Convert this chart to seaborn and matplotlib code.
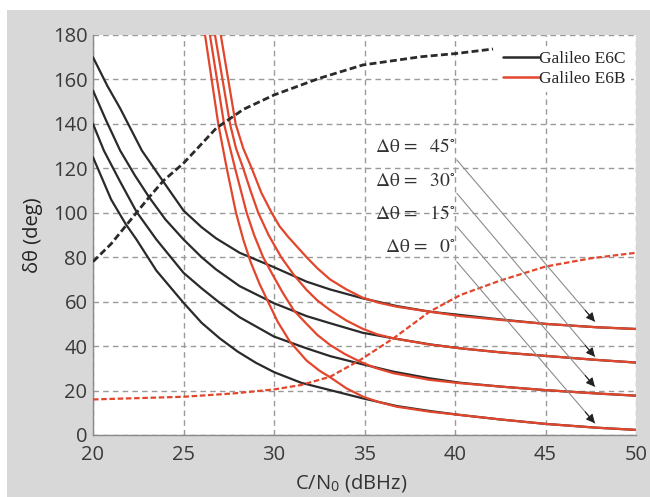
import numpy as np
import pandas as pd
import matplotlib

matplotlib.use("Agg")
import matplotlib.pyplot as plt
from matplotlib.lines import Line2D
from matplotlib.patches import Rectangle
import seaborn as sns

# ---- values ----
offsets = [45, 30, 15, 0]

# Galileo E6C (black, solid)
e6c_cn0 = {
    45: [20, 20.8, 21.5, 22.7, 23.8, 25, 26, 26.8, 28.1, 30, 31.8, 33.1, 34.9, 36.8, 38.6, 40.3, 42.5, 45, 47.8, 50],
    30: [20, 20.7, 21.5, 22.3, 23.1, 24, 25, 26, 26.8, 28.1, 30, 31.8, 33.1, 34.9, 36.6, 38.6, 40.3, 42.5, 45, 47.8, 50],
    15: [20, 20.6, 21.5, 22.4, 23.5, 25, 26, 27, 28.1, 30, 31.8, 33.1, 34.8, 36.6, 38.6, 40.3, 42.5, 45, 47.8, 50],
    0: [20, 21, 21.8, 22.4, 23.5, 25, 26, 27, 28, 29, 30, 31.5, 33.1, 34.9, 36.8, 38.6, 40.3, 42.5, 45, 47.8, 50],
}
e6c_dtheta = {
    45: [170, 157, 147, 128, 115, 101, 93.5, 88.5, 82, 75.5, 69, 65.5, 61.5, 58, 55.5, 54, 52, 50, 48.5, 47.7],
    30: [155, 142, 128, 117, 107, 97, 88, 80, 74.5, 67, 59.3, 53.5, 50.3, 46, 43.5, 40.8, 39, 37.2, 35.6, 33.8, 32.6],
    15: [140, 128, 114, 100.5, 88, 73, 66, 59.5, 53, 44.3, 39, 35.5, 32, 28.5, 25.5, 23.5, 21.8, 20.2, 18.7, 17.7],
    0: [125, 106, 95, 88, 74, 59.5, 50.5, 43.5, 37.5, 32.5, 28.3, 23.5, 20.2, 16.5, 13, 10.8, 9, 7, 5, 3.3, 2.3],
}

# Galileo E6B (red, solid)
e6b_cn0 = {
    45: [27.06, 27.88, 28.3, 28.77, 29.3, 29.87, 30.3, 30.8, 31.8, 32.4, 33.1, 34, 34.9, 35.8, 36.8, 38.6, 40.3, 42.5, 45, 47.8, 50],
    30: [26.74, 27.57, 27.9, 28.3, 28.7, 29.13, 29.7, 30.4, 31.1, 31.8, 32.4, 33.1, 34, 34.9, 35.7, 36.6, 38.6, 40.3, 42.5, 45, 47.8, 50],
    15: [26.46, 27.24, 27.85, 28.49, 28.9, 29.4, 30, 30.5, 31.1, 31.8, 32.4, 33.1, 33.9, 34.75, 35.6, 36.6, 38.6, 40.3, 42.5, 45, 47.8, 50],
    0: [26.19, 26.92, 27.39, 27.9, 28.3, 28.7, 29.2, 29.67, 30.2, 30.88, 31.8, 32.5, 33.1, 34, 34.93, 35.8, 36.8, 38.6, 40.3, 42.5, 45, 47.8, 50],
}
e6b_dtheta = {
    45: [180, 140, 129, 120, 109, 100, 94, 89, 80, 75, 70, 65.5, 61.8, 59.5, 57.7, 55.5, 53.5, 51.8, 50, 48.5, 47.7],
    30: [180, 140, 129, 120, 110, 100, 90, 80, 72, 65.3, 60.5, 56.2, 51.5, 47.8, 45.3, 43.5, 40.7, 39, 37.2, 35.6, 33.8, 32.6],
    15: [180, 140, 120, 100, 90, 80, 71, 63.8, 56, 50, 45, 40.5, 36.5, 33, 30.2, 27.8, 24.8, 23.3, 21.8, 20.2, 18.7, 17.7],
    0: [180, 140, 120, 100, 88, 78, 68, 60, 51, 42, 33.5, 29, 26, 21, 17.2, 14.8, 12.7, 10.5, 9, 7, 5, 3.3, 2.3],
}

# dashed curves
e6c_dash_cn0 = [20, 21, 21.8, 22.4, 23.1, 23.9, 25, 26, 26.8, 28.3, 30, 32.5, 34.9, 38.1, 40.1, 42.1]
e6c_dash = [78, 86, 94, 100, 107, 114.5, 122.3, 131, 138, 146.5, 153, 160.5, 166.5, 170.2, 171.7, 173.7]
e6b_dash_cn0 = [20, 25, 27.75, 30, 31.5, 33.1, 34.75, 36.6, 38.6, 40.3, 42.5, 45, 47.5, 50]
e6b_dash = [16, 17.2, 18.7, 20.5, 22.5, 26.2, 33.7, 43.5, 55.5, 63, 69.5, 75.8, 79.5, 82]

# annotation: label y, arrow start y, arrow end y
label_y = [129.7, 114.4, 99.6, 84.6]
arrow_start_y = [123.8, 108.8, 93.8, 78.0]
arrow_end_y = [51.0, 35.2, 21.7, 5.3]
arrow_x0, arrow_x1 = 40.1, 47.73

BLACK = "#2a2a2a"
RED = "#e2462c"

rows = []
for sig, xs, ys in (("Galileo E6C", e6c_cn0, e6c_dtheta), ("Galileo E6B", e6b_cn0, e6b_dtheta)):
    for off in offsets:
        for x, y in zip(xs[off], ys[off]):
            rows.append({"cn0": x, "dtheta": y, "signal": sig, "offset": off})
df = pd.DataFrame(rows)

sns.set_theme(style="white")
plt.rcParams["font.family"] = ["Open Sans", "DejaVu Sans"]
plt.rcParams["mathtext.fontset"] = "stix"

fig = plt.figure(figsize=(6.5, 4.97), dpi=100, facecolor="white")
fig.patches.append(
    Rectangle((7 / 650, 0), 1 - 7 / 650, 1 - 10 / 497, transform=fig.transFigure,
              facecolor="#d8d8d8", edgecolor="none", zorder=-1)
)
ax = fig.add_axes([93 / 650, 62 / 497, 543 / 650, 400 / 497])
ax.set_facecolor("white")

sns.lineplot(data=df, x="cn0", y="dtheta", hue="signal", units="offset", estimator=None,
             palette={"Galileo E6C": BLACK, "Galileo E6B": RED}, lw=1.6, legend=False,
             ax=ax, zorder=3)
sns.lineplot(x=e6c_dash_cn0, y=e6c_dash, color=BLACK, lw=2.0, linestyle=(0, (2.5, 1.2)), ax=ax, zorder=3)
sns.lineplot(x=e6b_dash_cn0, y=e6b_dash, color=RED, lw=1.6, linestyle=(0, (2.5, 1.2)), ax=ax, zorder=3)

ax.set_xlim(20, 50)
ax.set_ylim(0, 180)
ax.set_xticks(range(20, 51, 5))
ax.set_yticks(range(0, 181, 20))
ax.grid(True, color="#9a9a9a", linestyle=(0, (4, 3)), lw=1.0)
ax.set_axisbelow(True)
ax.tick_params(length=0, labelsize=14.5, colors="#3a3a3a")
ax.tick_params(axis="x", pad=7)
ax.tick_params(axis="y", pad=4)
for s in ("top", "right"):
    ax.spines[s].set_visible(False)
for s in ("left", "bottom"):
    ax.spines[s].set_color("#8a8a8a")
    ax.spines[s].set_linewidth(1.0)

ax.set_xlabel(r"C/N$_\mathregular{0}$ (dBHz)", fontsize=14.5, color="#333333")
ax.xaxis.set_label_coords(0.475, -0.093)
ax.set_ylabel("δθ (deg)", fontsize=14.5, color="#222222")
ax.yaxis.set_label_coords(-0.092, 0.5)

for off, ly, sy, ey in zip(offsets, label_y, arrow_start_y, arrow_end_y):
    ax.text(40.05, ly, r"$\mathrm{\Delta\theta}\,=\ \ %d^{\circ}$" % off, ha="right", va="center",
            fontsize=14, color="#333333", zorder=5)
    # thin gray shaft, dark head
    ax.annotate("", xy=(arrow_x1, ey), xytext=(arrow_x0, sy),
                arrowprops=dict(arrowstyle="-", color="#8c8c8c", lw=0.8,
                                shrinkA=0, shrinkB=0), zorder=5)
    hx = arrow_x0 + 0.93 * (arrow_x1 - arrow_x0)
    hy = sy + 0.93 * (ey - sy)
    ax.annotate("", xy=(arrow_x1, ey), xytext=(hx, hy),
                arrowprops=dict(arrowstyle="-|>", color="#222222", lw=0.8,
                                mutation_scale=13, shrinkA=0, shrinkB=0), zorder=6)

handles = [Line2D([], [], color=BLACK, lw=1.8), Line2D([], [], color=RED, lw=1.8)]
leg = ax.legend(handles, ["Galileo E6C", "Galileo E6B"], loc="upper right",
                bbox_to_anchor=(1.007, 0.995), frameon=True, fancybox=False,
                handlelength=2.1, handletextpad=0.0, labelspacing=0.2, borderpad=0.3,
                prop={"family": "Liberation Serif", "size": 12.5})
leg.get_frame().set_edgecolor("none")
leg.get_frame().set_facecolor("white")
leg.get_frame().set_alpha(1.0)

fig.savefig("out.png", dpi=100, facecolor=fig.get_facecolor())
